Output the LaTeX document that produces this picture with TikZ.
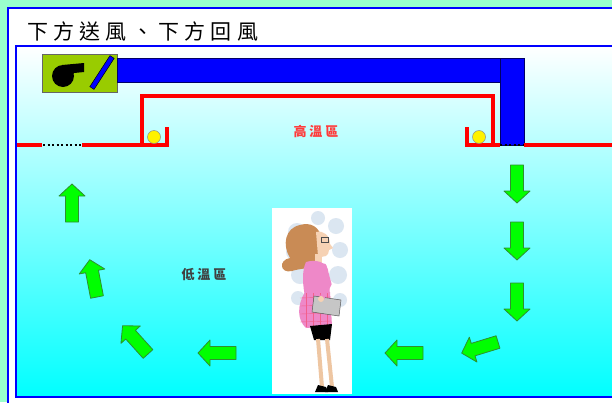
\documentclass[tikz,border=0pt]{standalone}
\usepackage{fontspec}
\setmainfont{Noto Sans CJK TC}
\usetikzlibrary{shapes.geometric}
\definecolor{bgMint}{HTML}{99FFCC}
\definecolor{fanOlive}{HTML}{99CC00}
\definecolor{airGreen}{HTML}{00FF00}
\definecolor{airEdge}{HTML}{2F8F2F}
\definecolor{hotRed}{HTML}{FF3B3B}
\definecolor{skin}{HTML}{F6D2B4}
\definecolor{hairBrown}{HTML}{C98B55}
\definecolor{dress}{HTML}{EE88C8}
\definecolor{mist}{HTML}{C4D6E8}
\tikzset{
  frame/.style={draw=blue, line width=2pt},
  duct/.style={fill=blue, draw=blue!40!black, line width=0.6pt},
  wall/.style={draw=red, line width=3.5pt},
  grille/.style={draw=black, line width=2pt, dash pattern=on 2pt off 2.5pt},
  lamp/.style={circle, draw=black!45, fill=yellow, minimum size=13pt, inner sep=0pt, line width=0.5pt},
  zonetag/.style={font=\fontsize{13}{13}\selectfont\bfseries\addfontfeature{LetterSpace=22}},
  arrowbody/.style={fill=airGreen, draw=airEdge, line width=0.8pt, line join=round},
  flowarrow/.pic={
    \path[arrowbody] (0,-6.5) -- (26,-6.5) -- (26,-13) -- (38,0)
      -- (26,13) -- (26,6.5) -- (0,6.5) -- cycle;
  }
}

\begin{document}
\begin{tikzpicture}[x=1pt, y=-1pt]
  \useasboundingbox (0,0) rectangle (612,402);
  \clip (0,0) rectangle (612,402);
  \fill[bgMint] (0,0) rectangle (612,402);
  % outer panel and title
  \path[frame, fill=white] (8,8) rectangle (640,430);
  \node[anchor=west, inner sep=0pt, font=\fontsize{21}{21}\selectfont\addfontfeature{LetterSpace=25}] (title) at (27,31) {下方送風、下方回風};
  % room with the cool air collecting at the floor
  \shade[top color=white, middle color=cyan!30, bottom color=cyan] (16,46) rectangle (640,397);
  \draw[frame, line width=2.5pt] (16,46) rectangle (640,397);

  % fan unit and supply duct
  \node[fill=fanOlive, draw=black!60, line width=0.6pt, minimum width=75pt, minimum height=38pt,
        inner sep=0pt, anchor=north west] (fanbox) at (42,54) {};
  \fill[black] (63,76) circle (11pt);
  \fill[black] (62,65) -- (84,63) -- (84,72) -- (74,73) -- (68,80) -- cycle;
  \node[fill=blue, draw=black, line width=0.5pt, minimum width=37pt, minimum height=5pt,
        inner sep=0pt, rotate=57] (damper) at (102,72.5) {};
  \path[duct] (117,58) rectangle (500,82);
  \path[duct] (500,58) rectangle (524,145);

  % ceiling
  \draw[wall] (17,145) -- (42,145);
  \draw[grille] (43,145) -- (82,145);
  \draw[wall] (82,145) -- (167,145) -- (167,127);
  \draw[wall] (142,145) -- (142,96) -- (493,96) -- (493,145);
  \draw[wall] (467,127) -- (467,145) -- (500,145);
  \draw[grille] (500,145) -- (524,145);
  \draw[wall] (524,145) -- (612,145);
  \node[lamp] (lampL) at (154,137) {};
  \node[lamp] (lampR) at (479,137) {};

  \node[zonetag, text=hotRed] (hot) at (316,131) {高溫區};
  \node[zonetag, text=black!75] (cool) at (204,275) {低溫區};

  % air path
  \foreach \px/\py/\ang in {517/165/270, 517/222/270, 517/283/270, 498/342/197,
                             423/353/180, 236/353/180, 148/354/132, 97/297/101, 72/222/90}
    \pic[rotate=\ang] at (\px,\py) {flowarrow};

  % person standing in the room
  \node[fill=white, minimum width=80pt, minimum height=186pt, inner sep=0pt,
        anchor=north west] (card) at (272,208) {};
  \fill[mist, opacity=0.6] (297,232) circle (9pt) (294,252) circle (8pt) (300,275) circle (9pt)
              (298,298) circle (7pt) (336,226) circle (8pt) (340,250) circle (8pt)
              (338,275) circle (9pt) (340,300) circle (7pt) (318,218) circle (7pt);
  \fill[hairBrown] (300,225) .. controls (285,228) and (282,245) .. (290,258)
    .. controls (278,260) and (280,274) .. (292,271)
    .. controls (300,268) and (310,270) .. (316,262) -- (322,240)
    .. controls (320,226) and (310,222) .. (300,225) -- cycle;
  \fill[skin] (316,232) .. controls (324,230) and (330,236) .. (330,244) -- (333,248)
    -- (329,250) .. controls (329,256) and (324,258) .. (318,256) -- cycle;
  \draw[black!70, line width=0.6pt] (321,237) rectangle (328,242);
  \fill[skin] (315,254) rectangle (322,265);
  \fill[dress] (306,262) .. controls (316,259) and (326,262) .. (328,270) -- (330,295)
    -- (306,300) .. controls (302,285) and (302,270) .. (306,262) -- cycle;
  \fill[dress] (305,292) .. controls (297,305) and (297,320) .. (306,328) -- (332,326)
    -- (330,292) -- cycle;
  \foreach \sy in {298,306,314,322}
    \draw[dress!70!red, line width=0.4pt] (300,\sy) -- (331,\sy-1);
  \foreach \sx in {306,313,320,327}
    \draw[dress!70!red, line width=0.4pt] (\sx,293) -- (\sx,327);
  \fill[black] (310,326) -- (332,324) -- (330,340) -- (314,340) -- cycle;
  \draw[skin!85!brown, line width=4pt] (318,339) -- (322,387) (327,339) -- (332,387);
  \fill[black] (318,385) -- (326,387) -- (328,392) -- (315,392) -- cycle;
  \fill[black] (328,385) -- (336,387) -- (338,392) -- (325,392) -- cycle;
  \filldraw[fill=gray!45, draw=gray!70!black, line width=0.5pt]
    (314,296) -- (341,300) -- (339,316) -- (312,312) -- cycle;
  \draw[dress, line width=5pt, line cap=round] (324,266) -- (329,284) -- (322,298);
  \fill[skin] (321,299) circle (3pt);
\end{tikzpicture}
\end{document}
